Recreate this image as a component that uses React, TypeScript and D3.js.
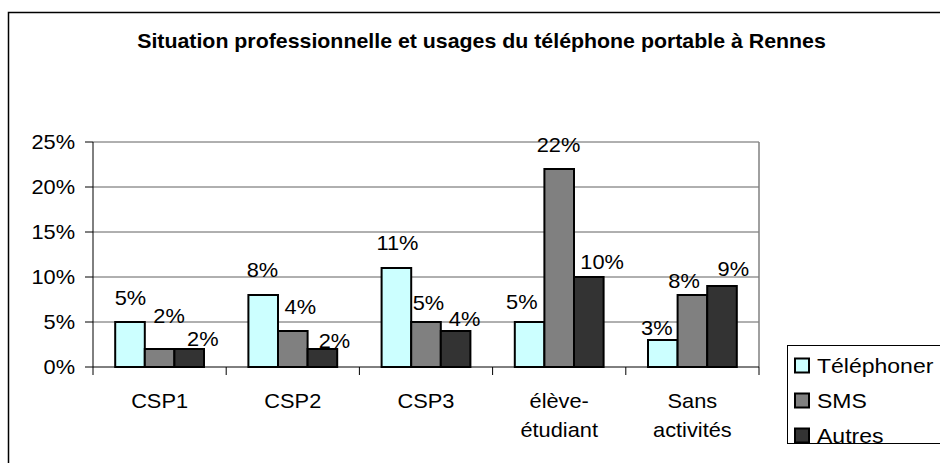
import React from "react";
import * as d3 from "d3";

const title = "Situation professionnelle et usages du téléphone portable à Rennes";
const categories = ["CSP1", "CSP2", "CSP3", "élève-\nétudiant", "Sans\nactivités"];
const seriesNames = ["Téléphoner", "SMS", "Autres"];
const telephoner = [0.05, 0.08, 0.11, 0.05, 0.03];
const sms = [0.02, 0.04, 0.05, 0.22, 0.08];
const autres = [0.02, 0.02, 0.04, 0.10, 0.09];
const yTicks = [0, 0.05, 0.1, 0.15, 0.2, 0.25];
const seriesColors = ["#CCFFFF", "#808080", "#333333"];
// label nudges relative to bar top-center (dx, dy) per series, per category
const labelDx = [
  [0.5, -0.7, 1, -7.8, -6],
  [9.5, 7.5, 2.4, -0.7, -8.3],
  [13.6, 12, 9, 13.3, 11.3],
];
const labelDy = [
  [-17, -18, -17.6, -12.7, -5],
  [-26, -17, -12, -17.3, -6.7],
  [-3, -1, -4.7, -7.7, -9.7],
];

const W = 940;
const H = 463;
const FONT = "Arial, 'Liberation Sans', sans-serif";

function SText({ x, y, anchor = "start", size = 20, sx = 1.09, weight = "normal", children }: any) {
  return (
    <g transform={`translate(${x},${y}) scale(${sx},1)`}>
      <text x={0} y={0} textAnchor={anchor} fontSize={size} fontWeight={weight} fontFamily={FONT} fill="#000">
        {children}
      </text>
    </g>
  );
}

export default function App() {
  const series = [telephoner, sms, autres];
  const plot = { left: 93, right: 759, top: 142, bottom: 367 };
  const x0 = d3.scaleBand<string>().domain(categories).range([plot.left, plot.right]).paddingInner(0).paddingOuter(0);
  const bw = x0.bandwidth();
  const gap = bw * 1.5 / 4.5;
  const x1 = d3.scaleBand<string>().domain(seriesNames).range([gap / 2, bw - gap / 2]).padding(0);
  const y = d3.scaleLinear().domain([0, 0.25]).range([plot.bottom, plot.top]);
  const fmt = d3.format(".0%");

  const boundaries = categories.map((c) => x0(c) as number).concat([plot.right]);

  return (
    <svg width={W} height={H} style={{ position: "absolute", left: 0, top: 0, background: "#fff" }}>
      <rect x={0} y={0} width={W} height={H} fill="#fff" />
      {/* outer frame */}
      <rect x={8.5} y={12.5} width={1000} height={1000} fill="none" stroke="#000" strokeWidth={1.5} />
      <SText x={481.5} y={48} anchor="middle" size={20} sx={1.067} weight="bold">{title}</SText>

      {/* gridlines */}
      {yTicks.slice(1).map((t) => (
        <line key={t} x1={plot.left} x2={plot.right} y1={y(t)} y2={y(t)} stroke="#606060" strokeWidth={1} />
      ))}
      <line x1={plot.right} x2={plot.right} y1={plot.top} y2={plot.bottom} stroke="#808080" strokeWidth={1.5} />

      {/* y axis */}
      <line x1={plot.left} x2={plot.left} y1={plot.top} y2={plot.bottom} stroke="#000" strokeWidth={1} />
      {yTicks.map((t) => (
        <g key={"yt" + t}>
          <line x1={plot.left - 8} x2={plot.left} y1={y(t)} y2={y(t)} stroke="#000" strokeWidth={1} />
          <SText x={75} y={y(t) + 7.2} anchor="end">{fmt(t)}</SText>
        </g>
      ))}

      {/* bars */}
      {series.map((vals, si) =>
        vals.map((v, ci) => {
          const bx = (x0(categories[ci]) as number) + (x1(seriesNames[si]) as number);
          return (
            <rect key={`b${si}-${ci}`} x={bx} y={y(v)} width={x1.bandwidth()} height={y(0) - y(v)}
              fill={seriesColors[si]} stroke="#000" strokeWidth={2} />
          );
        })
      )}

      {/* x axis */}
      <line x1={plot.left} x2={plot.right} y1={plot.bottom} y2={plot.bottom} stroke="#000" strokeWidth={1} />
      {boundaries.map((bx, i) => (
        <line key={"xt" + i} x1={bx} x2={bx} y1={plot.bottom} y2={plot.bottom + 8} stroke="#000" strokeWidth={1} />
      ))}
      {categories.map((c) => {
        const lines = c.split("\n");
        const cx = (x0(c) as number) + bw / 2;
        return lines.map((ln, li) => (
          <SText key={c + li} x={cx} y={407.5 + li * 29} anchor="middle">{ln}</SText>
        ));
      })}

      {/* value labels */}
      {series.map((vals, si) =>
        vals.map((v, ci) => {
          const bx = (x0(categories[ci]) as number) + (x1(seriesNames[si]) as number) + x1.bandwidth() / 2;
          return (
            <SText key={`l${si}-${ci}`} x={bx + labelDx[si][ci]} y={y(v) + labelDy[si][ci]} anchor="middle">
              {fmt(v)}
            </SText>
          );
        })
      )}

      {/* legend */}
      <rect x={787.5} y={345.5} width={200} height={98} fill="#fff" stroke="#000" strokeWidth={1} />
      {seriesNames.map((s, i) => {
        const cy = 365.5 + i * 35;
        return (
          <g key={s}>
            <rect x={795} y={cy - 7} width={14} height={14} fill={seriesColors[i]} stroke="#000" strokeWidth={2} />
            <SText x={817} y={cy + 7} size={20} sx={1.15}>{s}</SText>
          </g>
        );
      })}
    </svg>
  );
}
